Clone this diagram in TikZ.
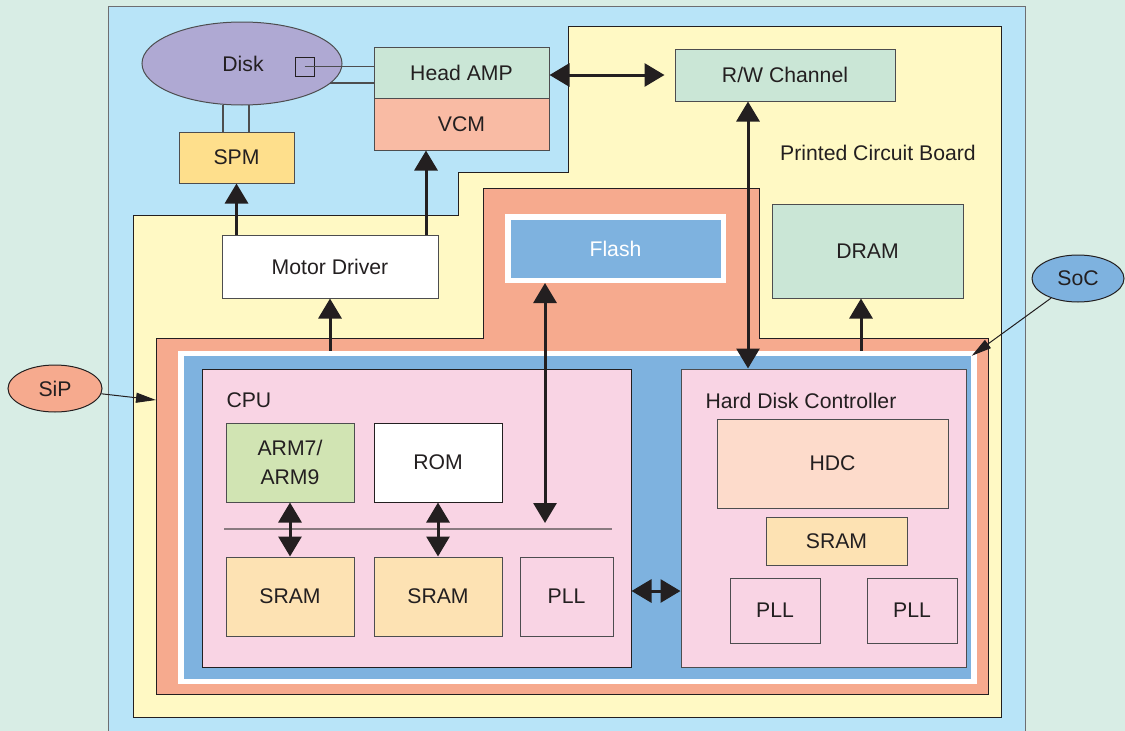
\documentclass[tikz,border=0pt]{standalone}
\usepackage{fontspec}
\setmainfont{Liberation Sans}
\usetikzlibrary{shapes.geometric,arrows.meta}

\definecolor{bgmint}{HTML}{D8EDE5}
\definecolor{panelblue}{HTML}{B8E4F8}
\definecolor{panelline}{HTML}{6D6E71}
\definecolor{pcbyellow}{HTML}{FFF9C4}
\definecolor{sipsalmon}{HTML}{F6AA8E}
\definecolor{socblue}{HTML}{7EB2DF}
\definecolor{cpupink}{HTML}{F9D4E4}
\definecolor{mintbox}{HTML}{CAE6D6}
\definecolor{vcmred}{HTML}{F9BBA4}
\definecolor{spmyellow}{HTML}{FEDF8C}
\definecolor{sramtan}{HTML}{FDE2B3}
\definecolor{armgreen}{HTML}{D1E4B3}
\definecolor{hdcpeach}{HTML}{FDDBCB}
\definecolor{disklav}{HTML}{AFA9D3}
\definecolor{ink}{HTML}{231F20}
\definecolor{boxline}{HTML}{4D4D4F}
\definecolor{busgray}{HTML}{8A7A80}

\tikzset{
	blk/.style={draw=boxline, line width=1pt, inner sep=0pt, text=ink, align=center},
	arr/.style={line width=3pt, draw=ink, -{Triangle[length=20pt,width=23pt]}},
	dbl/.style={line width=3pt, draw=ink, {Triangle[length=20pt,width=23pt]}-{Triangle[length=20pt,width=23pt]}},
	pointer/.style={line width=1pt, draw=ink, -{Triangle[length=20pt,width=10pt]}},
	wire/.style={line width=1.4pt, draw=boxline},
}

\begin{document}
\begin{tikzpicture}[x=1pt,y=-1pt,font=\fontsize{21.2}{29}\selectfont]
	\useasboundingbox (0,0) rectangle (1125,731);
	\clip (0,0) rectangle (1125,731);
	\fill[bgmint] (0,0) rectangle (1125,731);
	\filldraw[fill=panelblue, draw=panelline, line width=1pt] (108,6) rectangle (1025,745);

	% board and package outlines
	\filldraw[fill=pcbyellow, draw=ink, line width=1pt] (133,717) -- (133,215) -- (458,215) -- (458,172) -- (568,172) -- (568,26) -- (1001,26) -- (1001,717) -- cycle;
	\filldraw[fill=sipsalmon, draw=ink, line width=1pt] (156,694) -- (156,338) -- (483,338) -- (483,188) -- (759,188) -- (759,338) -- (988,338) -- (988,694) -- cycle;

	\node[text=ink] (pcb) at (878,153) {Printed Circuit Board};

	% drive mechanics
	\node[blk, ellipse, fill=disklav, minimum width=200pt, minimum height=83pt] (disk) at (242,63.5) {\hspace*{2pt}Disk};
	\node[draw=ink, line width=1pt, minimum size=19pt, inner sep=0pt] (sq) at (304.5,66.5) {};
	\node[blk, fill=mintbox, minimum width=175pt, minimum height=51pt] (headamp) at (461.5,72.5) {Head AMP};
	\node[blk, fill=vcmred, minimum width=175pt, minimum height=52pt] (vcm) at (461.5,124) {VCM};
	\node[blk, fill=spmyellow, minimum width=115pt, minimum height=51pt] (spm) at (236.5,157.5) {SPM};
	\node[blk, fill=mintbox, minimum width=220pt, minimum height=52pt] (rw) at (785,75) {R/W Channel};
	\node[blk, fill=white, minimum width=216pt, minimum height=63pt] (motor) at (330,266.5) {Motor Driver};

	% memories on the board
	\node[draw=white, line width=5.5pt, fill=socblue, text=white, minimum width=215.5pt, minimum height=63.5pt, inner sep=0pt] (flash) at (615.5,248.5) {Flash};
	\node[blk, fill=mintbox, minimum width=191pt, minimum height=94pt] (dram) at (867.5,251) {DRAM};

	% system on chip
	\node[draw=white, line width=5.5pt, fill=socblue, minimum width=793pt, minimum height=328pt, inner sep=0pt] (soc) at (577.5,517.5) {};
	\node[blk, draw=ink, fill=cpupink, minimum width=429pt, minimum height=298pt] (cpu) at (416.5,518) {};
	\node[text=ink, anchor=west] (cpulbl) at (223,400.5) {CPU};
	\node[blk, fill=armgreen, minimum width=128pt, minimum height=79pt] (arm) at (290,462.5) {ARM7/\\ARM9};
	\node[blk, draw=ink, fill=white, minimum width=128pt, minimum height=79pt] (rom) at (438,462.5) {ROM};
	\node[blk, fill=sramtan, minimum width=128pt, minimum height=79pt] (sramA) at (290,596.5) {SRAM};
	\node[blk, fill=sramtan, minimum width=128pt, minimum height=79pt] (sramB) at (438,596.5) {SRAM};
	\node[blk, fill=cpupink, minimum width=93pt, minimum height=79pt] (pllA) at (566.5,596.5) {PLL};
	\coordinate (busL) at (224,529);
	\coordinate (busR) at (612,529);
	\draw[busgray, line width=1.5pt] (busL) -- (busR);

	\node[blk, fill=cpupink, minimum width=285pt, minimum height=298pt] (hdcbox) at (823.5,518) {};
	\node[text=ink, anchor=west] (hdclbl) at (702,401) {Hard Disk Controller};
	\node[blk, fill=hdcpeach, minimum width=231pt, minimum height=89pt] (hdc) at (832.5,463.5) {HDC};
	\node[blk, fill=sramtan, minimum width=141pt, minimum height=48pt] (sramC) at (836.5,541) {SRAM};
	\node[blk, fill=cpupink, minimum width=90pt, minimum height=65pt] (pllB) at (775,610.5) {PLL};
	\node[blk, fill=cpupink, minimum width=90pt, minimum height=65pt] (pllC) at (912,610.5) {PLL};

	% callouts
	\node[blk, draw=ink, ellipse, fill=sipsalmon, minimum width=94pt, minimum height=47pt] (sip) at (55,388.5) {SiP};
	\node[blk, draw=ink, ellipse, fill=socblue, minimum width=92pt, minimum height=47pt] (soclbl) at (1078,278.5) {SoC};
	\coordinate (sipedge) at (156,400);
	\draw[pointer] (sip) -- (sipedge);
	\draw[pointer] (soclbl) -- ([xshift=-5pt,yshift=-5pt]soc.north east);

	% wiring
	\draw[wire] (sq.center) -- (sq.center -| headamp.west);
	\coordinate (diskrim) at (330,83);
	\draw[wire] (diskrim) -- (diskrim -| headamp.west);
	\draw[wire] ([xshift=-13.5pt]spm.north) -- ([xshift=-13.5pt,yshift=1pt]spm.north |- disk.south);
	\draw[wire] ([xshift=12.5pt]spm.north) -- ([xshift=12.5pt,yshift=1pt]spm.north |- disk.south);

	\draw[arr] (motor.north -| spm.south) -- (spm.south);
	\draw[arr] ([xshift=-35.5pt]vcm.south |- motor.north) -- ([xshift=-35.5pt]vcm.south);
	\draw[arr] (soc.north -| motor.south) -- (motor.south);
	\draw[dbl, shorten >=10pt] (headamp.east |- rw.west) -- (rw.west);
	\draw[dbl] ([xshift=-37pt]rw.south) -- ([xshift=-37pt]rw.south |- hdcbox.north);
	\draw[dbl, shorten >=6pt] ([xshift=-70.5pt]flash.south) -- ([xshift=-70.5pt]flash.south |- busR);
	\draw[arr] ([xshift=-6.5pt]dram.south |- soc.north) -- ([xshift=-6.5pt]dram.south);
	\draw[dbl] (arm.south) -- (sramA.north);
	\draw[dbl] (rom.south) -- (sramB.north);
	\draw[dbl] ([yshift=-73pt]cpu.east) -- ([yshift=-73pt]cpu.east -| hdcbox.west);

\end{tikzpicture}
\end{document}
